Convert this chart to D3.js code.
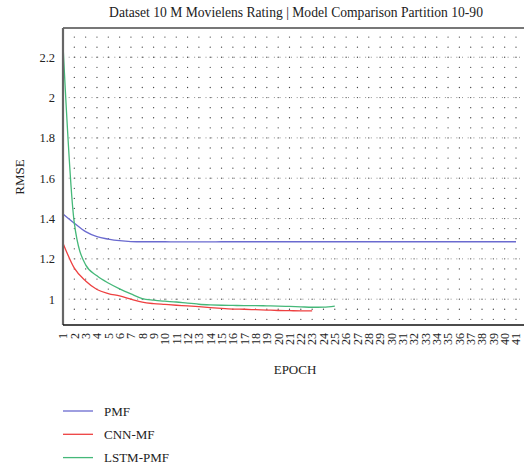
<!DOCTYPE html>
<html><head><meta charset="utf-8">
<script src="https://cdn.jsdelivr.net/npm/d3@7"></script>
<style>body{margin:0;background:#fff}svg{display:block}text{font-family:"Liberation Serif","DejaVu Serif",serif;fill:#222}</style>
</head><body><svg id="c" width="524" height="466"></svg>
<script>
const title = "Dataset 10 M Movielens Rating | Model Comparison Partition 10-90";
const epochs = d3.range(1, 42);
const seriesNames = ["PMF", "CNN-MF", "LSTM-PMF"];
const colors = ["#6a6acf", "#ee4040", "#45b879"];
const pmf = [1.423,1.377,1.335,1.31,1.298,1.29,1.286,1.285,1.285,1.285,1.284,1.284,1.284,1.284,1.285,1.285,1.285,1.285,1.285,1.285,1.285,1.285,1.285,1.285,1.285,1.285,1.285,1.285,1.285,1.285,1.285,1.285,1.285,1.285,1.285,1.285,1.285,1.285,1.285,1.285,1.285];
const cnn = [1.278,1.154,1.09,1.048,1.028,1.016,1.0,0.985,0.978,0.974,0.97,0.967,0.963,0.958,0.954,0.951,0.95,0.948,0.946,0.944,0.943,0.942,0.942];
const lstm = [2.262,1.377,1.17,1.116,1.08,1.051,1.026,1.003,0.995,0.99,0.986,0.98,0.975,0.972,0.97,0.969,0.968,0.968,0.967,0.966,0.964,0.962,0.96,0.961,0.966];
const yTicks = [1, 1.2, 1.4, 1.6, 1.8, 2, 2.2];
const allSeries = [pmf, cnn, lstm];

const svg = d3.select("#c");
const L = 63, R = 516, T = 28, B = 325;
const x = d3.scaleLinear().domain([1, 41]).range([L, R]);
const y = d3.scaleLinear().domain([0.872, 2.345]).range([B, T]);

// grid dots lattice
const gridRows = d3.range(0.9, 2.33, 0.05);
const g = svg.append("g");
epochs.slice(1).forEach(e => {
  gridRows.forEach(v => {
    g.append("circle").attr("cx", x(e)).attr("cy", y(v)).attr("r", 0.65).attr("fill", "#444");
  });
});
// major dotted rows
svg.append("g").selectAll("line").data(yTicks).join("line")
  .attr("x1", L).attr("x2", 524).attr("y1", d => y(d)).attr("y2", d => y(d))
  .attr("stroke", "#777").attr("stroke-width", 0.8).attr("stroke-dasharray", "1,4.7");

// lines
const line = d3.line().curve(d3.curveMonotoneX).x((d, i) => x(epochs[i])).y(d => y(d));
allSeries.forEach((s, i) => {
  svg.append("path").datum(s).attr("d", line).attr("fill", "none")
    .attr("stroke", colors[i]).attr("stroke-width", 1.3);
});

// frame
svg.append("line").attr("x1", L).attr("x2", 524).attr("y1", T).attr("y2", T).attr("stroke", "#777").attr("stroke-width", 2);
svg.append("line").attr("x1", L).attr("x2", L).attr("y1", T).attr("y2", B).attr("stroke", "#666").attr("stroke-width", 2.2);

// x axis
const xAxis = svg.append("g").attr("transform", `translate(0,${B})`)
  .call(d3.axisBottom(x).tickValues(epochs).tickSize(0).tickPadding(0).tickFormat(d3.format("d")));
xAxis.select(".domain").attr("stroke", "#111").attr("stroke-width", 1.6).attr("d", `M${L},0H524`);
xAxis.selectAll("text").attr("transform", d => `translate(0,8) rotate(-90)`)
  .attr("text-anchor", "end").attr("dy", "0.32em").attr("x", 0).attr("y", 0)
  .style("font-size", "12px");

// y axis
const yAxis = svg.append("g").attr("transform", `translate(${L},0)`)
  .call(d3.axisLeft(y).tickValues(yTicks).tickSize(0).tickPadding(8).tickFormat(d3.format("~g")));
yAxis.select(".domain").remove();
yAxis.selectAll("text").style("font-size", "12.5px");

// labels
svg.append("text").attr("x", 296).attr("y", 17).attr("text-anchor", "middle").style("font-size", "13.6px").text(title);
svg.append("text").attr("transform", "translate(24,177) rotate(-90)").attr("text-anchor", "middle").style("font-size", "13px").text("RMSE");
svg.append("text").attr("x", 295).attr("y", 374).attr("text-anchor", "middle").style("font-size", "13px").text("EPOCH");

// legend
const leg = svg.append("g");
seriesNames.forEach((n, i) => {
  const yy = 411 + i * 23.3;
  leg.append("line").attr("x1", 63).attr("x2", 93).attr("y1", yy).attr("y2", yy).attr("stroke", colors[i]).attr("stroke-width", 1.3);
  leg.append("text").attr("x", 104).attr("y", yy).attr("dy", "0.35em").style("font-size", "13px").text(n);
});
</script></body></html>
